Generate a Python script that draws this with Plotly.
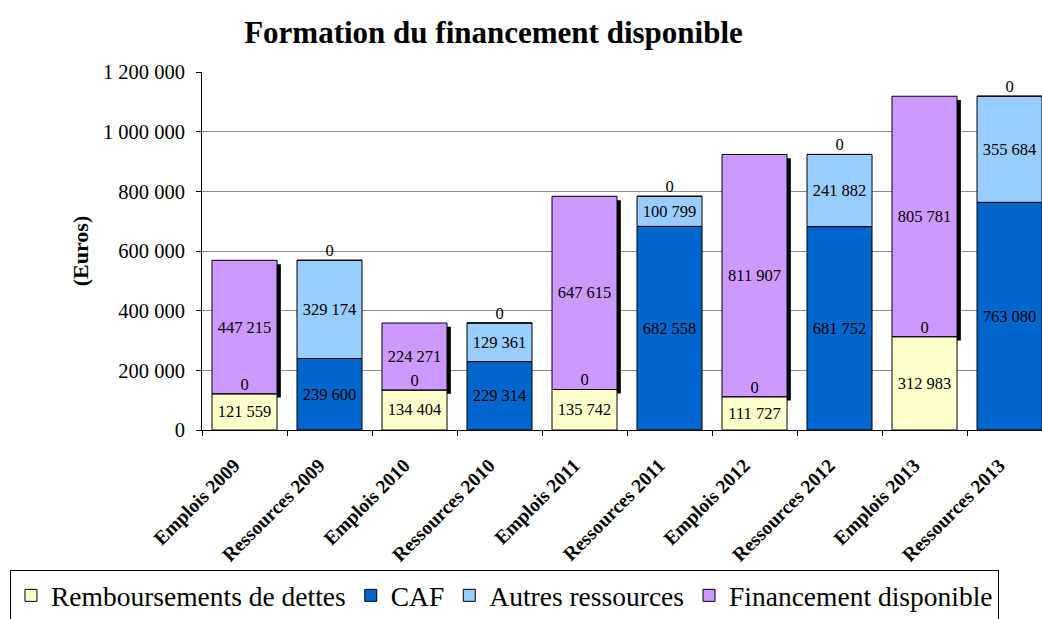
import numpy as np
import plotly.graph_objects as go

categories = ["Emplois 2009", "Ressources 2009", "Emplois 2010", "Ressources 2010",
              "Emplois 2011", "Ressources 2011", "Emplois 2012", "Ressources 2012",
              "Emplois 2013", "Ressources 2013"]
remboursements = [121559, None, 134404, None, 135742, None, 111727, None, 312983, None]
caf = [None, 239600, None, 229314, None, 682558, None, 681752, None, 763080]
autres_ressources = [0, 329174, 0, 129361, 0, 100799, 0, 241882, 0, 355684]
financement = [447215, 0, 224271, 0, 647615, 0, 811907, 0, 805781, 0]

series = [
    ("Remboursements de dettes", remboursements, "#FFFFCC"),
    ("CAF", caf, "#0066CC"),
    ("Autres ressources", autres_ressources, "#99CCFF"),
    ("Financement disponible", financement, "#CC99FF"),
]

FONT = "Liberation Serif"
BAR_W = 0.765
SHADOW_DX = 0.045
SHADOW_DY = 13000


def arr(v):
    return np.array([np.nan if x is None else x for x in v], dtype=float)


def fmt(v):
    return f"{int(v):,}".replace(",", " ")


fig = go.Figure()

# cumulative bases
bases = []
cum = np.zeros(len(categories))
for name, vals, col in series:
    bases.append(cum.copy())
    cum = cum + np.nan_to_num(arr(vals))

# shadow behind "Financement disponible"
fin = arr(financement)
fig.add_trace(go.Bar(
    x=categories, y=[v if v > 0 else None for v in fin], base=bases[3] - SHADOW_DY,
    width=BAR_W, offset=-BAR_W / 2 + SHADOW_DX,
    marker=dict(color="black", line=dict(width=0)),
    showlegend=False, hoverinfo="skip"))

zero_x, zero_y = [], []
for (name, vals, col), base in zip(series, bases):
    a = arr(vals)
    texts = [fmt(v) if (not np.isnan(v) and v > 0) else "" for v in a]
    for c, v, b in zip(categories, a, base):
        if not np.isnan(v) and v == 0:
            zero_x.append(c)
            zero_y.append(b)
    fig.add_trace(go.Bar(
        x=categories, y=[None if np.isnan(v) else v for v in a], base=base,
        name=name, width=BAR_W, offset=-BAR_W / 2,
        marker=dict(color=col, line=dict(color="black", width=1)),
        text=texts, textposition="inside", insidetextanchor="middle",
        textangle=0, constraintext="none",
        textfont=dict(family=FONT, size=16.5, color="black")))

fig.add_trace(go.Scatter(
    x=zero_x, y=zero_y, mode="text", text=["0"] * len(zero_x),
    textposition="top center", cliponaxis=False,
    textfont=dict(family=FONT, size=16.5, color="black"),
    showlegend=False, hoverinfo="skip"))

fig.update_layout(
    width=1042, height=619,
    barmode="overlay",
    separators=", ",
    paper_bgcolor="white", plot_bgcolor="white",
    margin=dict(l=202, r=0, t=72, b=189, autoexpand=False),
    font=dict(family=FONT, color="black"),
    title=dict(text="<b>Formation du financement disponible</b>",
               font=dict(family=FONT, size=31, color="black"),
               x=0.4736, xref="container", xanchor="center",
               y=0.948, yref="container", yanchor="middle"),
    xaxis=dict(type="category", range=[-0.5, 9.382], tickson="boundaries",
               tickvals=categories, ticktext=[c + "\u00a0" * 3 for c in categories],
               ticks="outside", ticklen=5, tickcolor="black",
               showline=True, linecolor="black", linewidth=1,
               showgrid=False, tickangle=-45, automargin=False,
               ticklabelstandoff=5,
               tickfont=dict(family=FONT, size=19.5, weight="bold")),
    yaxis=dict(range=[0, 1200000], dtick=200000, tickformat=",",
               ticks="outside", ticklen=5, tickcolor="black",
               showline=True, linecolor="black", linewidth=1,
               gridcolor="#8c8c8c", gridwidth=1, zeroline=False, automargin=False,
               ticklabelstandoff=7,
               tickfont=dict(family=FONT, size=20.5),
               title=dict(text="<b>(Euros)</b>", standoff=8,
                          font=dict(family=FONT, size=22))),
    legend=dict(orientation="h", x=-0.2286, xanchor="left", y=-0.391, yanchor="top",
                bordercolor="black", borderwidth=1,
                font=dict(family=FONT, size=27.5), traceorder="normal"),
)

fig.write_html("out.html",
               config={"displayModeBar": False},
               post_script="document.body.style.margin='0px';"
                           "document.body.style.overflow='hidden';")
